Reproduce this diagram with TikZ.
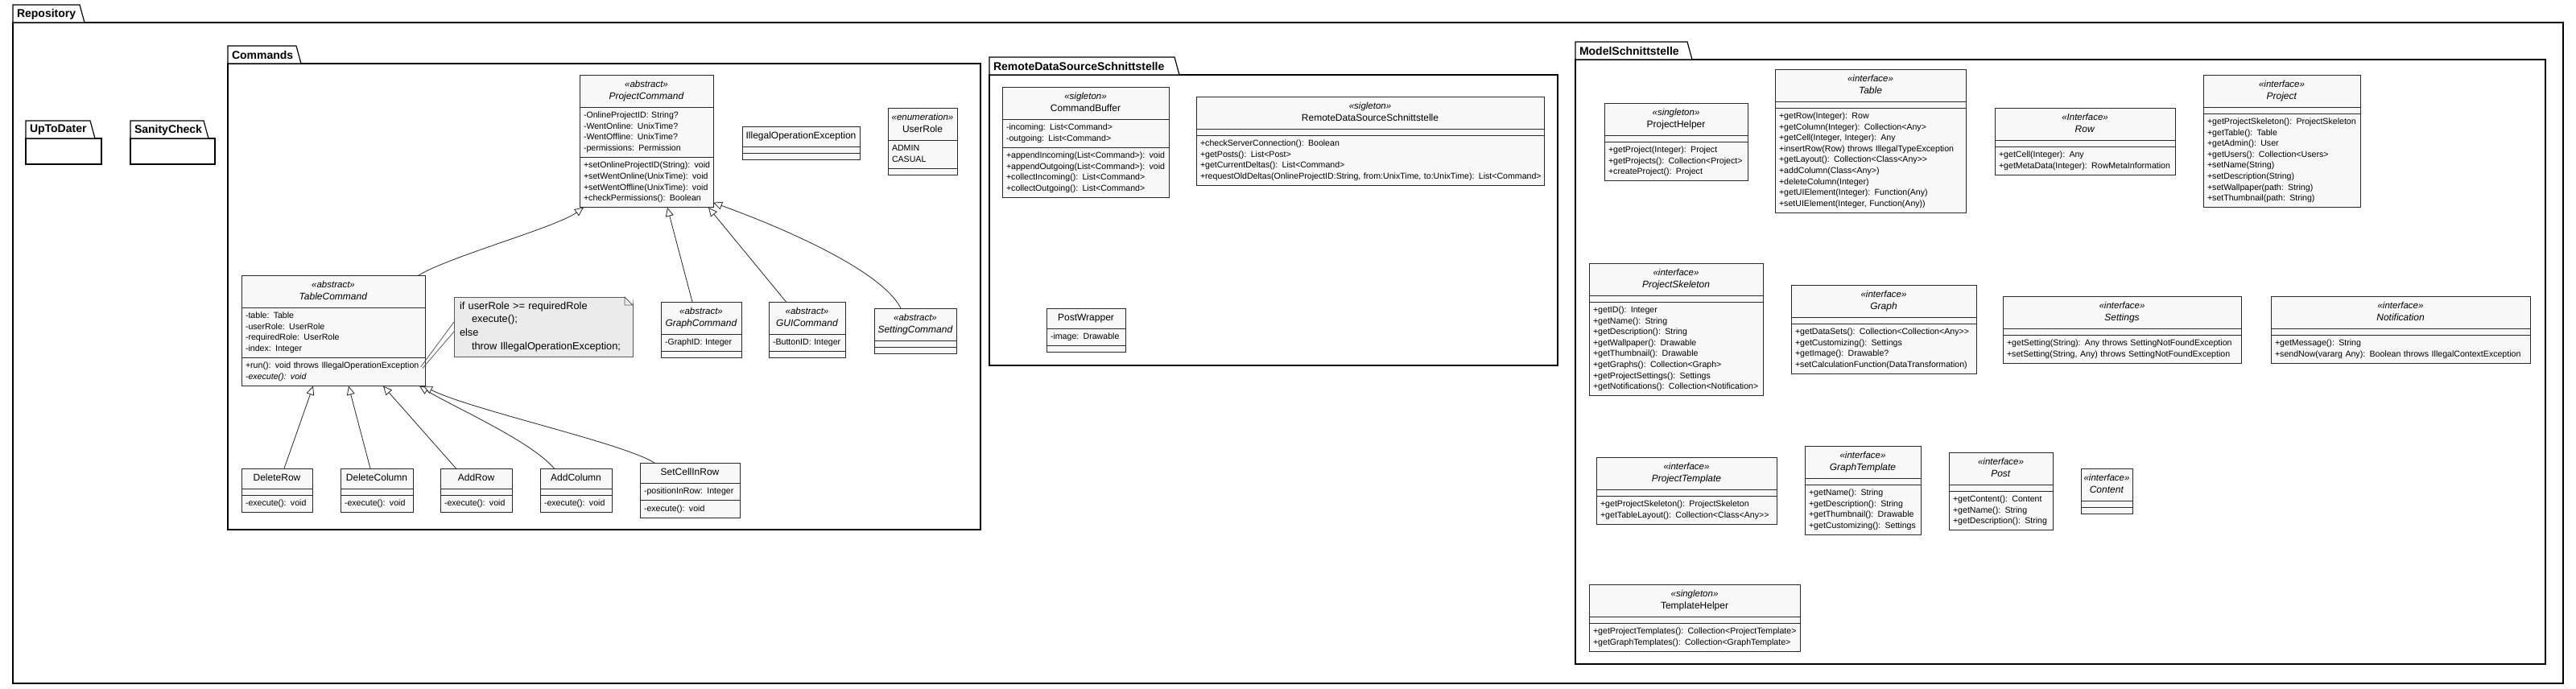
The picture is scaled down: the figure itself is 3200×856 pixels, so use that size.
\documentclass[tikz,border=0pt]{standalone}
\usepackage{fontspec}
\setmainfont{Liberation Sans}
\usetikzlibrary{arrows.meta}

\begin{document}
\begin{tikzpicture}[x=1pt,y=-1pt,line cap=rect,
	pkgline/.style={line width=1.2pt, draw=black, fill=white},
	pkgtitle/.style={inner sep=0, outer sep=0, anchor=west, font=\fontsize{14}{16}\selectfont\bfseries},
	umlhead/.style={draw=custcol_line, line width=0.9pt, fill=custcol_fill, inner xsep=3pt, inner ysep=5pt, outer sep=0, align=center, font=\fontsize{12}{15}\selectfont},
	umlpart/.style={draw=custcol_line, line width=0.9pt, fill=custcol_fill, inner xsep=5pt, inner ysep=4pt, outer sep=0, align=left, anchor=north, minimum height=8pt, font=\fontsize{10.6}{13.6}\selectfont},
	umlnote/.style={draw=custcol_note_line, line width=0.9pt, fill=custcol_note, inner xsep=7pt, inner ysep=3.6pt, outer sep=0, align=left, anchor=north west, font=\fontsize{12.8}{16.7}\selectfont},
	notelink/.style={draw=custcol_note_line, line width=0.8pt},
	inherit/.style={draw=custcol_line, line width=0.8pt, -{Triangle[open, length=11pt, width=10pt, fill=white]}}]
				\definecolor{custcol_line}{RGB}{40, 40, 40}
				\definecolor{custcol_fill}{RGB}{248, 248, 248}
				\definecolor{custcol_note}{RGB}{235, 235, 235}
				\definecolor{custcol_note_line}{RGB}{90, 90, 90}
				\def\stereo#1{{\fontsize{11.5}{15}\selectfont\itshape «#1»}}
				\def\umlrows#1{\if\relax\detokenize{#1}\relax\else\begin{tabular}{@{}l@{}}#1\end{tabular}\fi}
				% name, x, y, width, header, attributes, methods
				\def\umlclass#1#2#3#4#5#6#7{%
					\pgfmathsetmacro\umlhw{#4-6}%
					\pgfmathsetmacro\umltw{#4-10}%
					\node[umlhead, text width=\umlhw pt, anchor=north west] (#1) at (#2,#3) {\begin{tabular}{@{}c@{}}#5\end{tabular}};
					\node[umlpart, text width=\umltw pt] (#1-attr) at (#1.south) {\umlrows{#6}};
					\node[umlpart, text width=\umltw pt] (#1-meth) at (#1-attr.south) {\umlrows{#7}};
				}
				% name, x0, tab top, x1, bottom, tab width, title
				\def\umlpackage#1#2#3#4#5#6#7{%
					\draw[pkgline] (#2,#3+22) rectangle (#4,#5);
					\draw[pkgline] (#2,#3+22) -- (#2,#3) -- (#2+#6,#3) -- (#2+#6+6,#3+22) -- cycle;
					\node[pkgtitle] (#1) at (#2+5,#3+11.5) {#7};
				}
				\useasboundingbox (0.0,0.0) rectangle (3200.0,856.0);
				% packages
				\umlpackage{Repository}{16.0}{6.0}{3184.0}{849.0}{83.0}{Repository}
				\umlpackage{UpToDater}{32.0}{150.0}{126.0}{204.0}{80.0}{UpToDater}
				\umlpackage{SanityCheck}{162.0}{150.0}{267.0}{204.0}{91.0}{SanityCheck}
				\umlpackage{Commands}{283.0}{57.0}{1218.0}{658.0}{85.0}{Commands}
				\umlpackage{RemotePkg}{1229.0}{71.0}{1935.0}{454.0}{230.0}{RemoteDataSourceSchnittstelle}
				\umlpackage{ModelPkg}{1957.0}{52.0}{3162.0}{825.0}{139.0}{ModelSchnittstelle}
				% Commands
				\umlclass{ProjectCommand}{720.0}{93.0}{166.0}{\stereo{abstract}\\\textit{ProjectCommand}}{-OnlineProjectID: String?\\-WentOnline: UnixTime?\\-WentOffline: UnixTime?\\-permissions: Permission}{+setOnlineProjectID(String): void\\+setWentOnline(UnixTime): void\\+setWentOffline(UnixTime): void\\+checkPermissions(): Boolean}
				\umlclass{IllegalOperationException}{922.0}{157.0}{146.0}{IllegalOperationException}{}{}
				\umlclass{UserRole}{1103.0}{134.0}{86.0}{\stereo{enumeration}\\UserRole}{ADMIN\\CASUAL}{}
				\umlclass{TableCommand}{300.0}{342.0}{228.0}{\stereo{abstract}\\\textit{TableCommand}}{-table: Table\\-userRole: UserRole\\-requiredRole: UserRole\\-index: Integer}{+run(): void throws IllegalOperationException\\\textit{-execute(): void}}
				\umlclass{GraphCommand}{821.0}{375.0}{100.0}{\stereo{abstract}\\\textit{GraphCommand}}{-GraphID: Integer}{}
				\umlclass{GUICommand}{955.0}{375.0}{95.0}{\stereo{abstract}\\\textit{GUICommand}}{-ButtonID: Integer}{}
				\umlclass{SettingCommand}{1086.0}{383.0}{102.0}{\stereo{abstract}\\\textit{SettingCommand}}{}{}
				\umlclass{DeleteRow}{300.0}{582.0}{88.0}{DeleteRow}{}{-execute(): void}
				\umlclass{DeleteColumn}{423.0}{582.0}{90.0}{DeleteColumn}{}{-execute(): void}
				\umlclass{AddRow}{547.0}{582.0}{89.0}{AddRow}{}{-execute(): void}
				\umlclass{AddColumn}{671.0}{582.0}{89.0}{AddColumn}{}{-execute(): void}
				\umlclass{SetCellInRow}{795.0}{575.0}{124.0}{SetCellInRow}{-positionInRow: Integer}{-execute(): void}
				\node[umlnote, text width=208pt] (RoleNote) at (564.0,369.0) {\begin{tabular}{@{}l@{}}if userRole >= requiredRole\\\hspace*{15pt}execute();\\else\\\hspace*{15pt}throw IllegalOperationException;\end{tabular}};
				\fill[white] ([xshift=-10pt]RoleNote.north east) -- ([xshift=1pt,yshift=1pt]RoleNote.north east) -- ([yshift=-10pt]RoleNote.north east) -- cycle;
				\draw[notelink, fill=custcol_note] ([xshift=-10pt]RoleNote.north east) -- ([yshift=-10pt]RoleNote.north east) -- ++(-10,0) -- cycle;
				\draw[notelink] ([yshift=-31pt]RoleNote.north west) -- ([xshift=-5pt,yshift=-11pt]TableCommand-meth.north east);
				\draw[notelink] ([yshift=-43pt]RoleNote.north west) -- ([xshift=-3pt,yshift=-13pt]TableCommand-meth.north east);
				\draw[inherit] ([xshift=-8pt]TableCommand.north east) .. controls +(40,-24) and +(-35,25) .. ([xshift=5pt]ProjectCommand-meth.south west);
				\draw[inherit] ([xshift=-11pt]GraphCommand.north) -- ([xshift=26pt]ProjectCommand-meth.south);
				\draw[inherit] ([xshift=-26pt]GUICommand.north) -- ([xshift=-6pt]ProjectCommand-meth.south east);
				\draw[inherit] ([xshift=-18pt]SettingCommand.north) .. controls +(-25,-50) and +(70,25) .. ([yshift=6pt]ProjectCommand-meth.south east);
				\draw[inherit] ([xshift=9pt]DeleteRow.north) -- ([xshift=-25pt]TableCommand-meth.south);
				\draw[inherit] ([xshift=-8pt]DeleteColumn.north) -- ([xshift=19pt]TableCommand-meth.south);
				\draw[inherit] ([xshift=-25pt]AddRow.north) -- ([xshift=62pt]TableCommand-meth.south);
				\draw[inherit] ([xshift=-27pt]AddColumn.north) .. controls +(-30,-35) and +(40,25) .. ([xshift=-7pt]TableCommand-meth.south east);
				\draw[inherit] ([xshift=-44pt]SetCellInRow.north) .. controls +(-40,-25) and +(60,30) .. ([xshift=-2pt]TableCommand-meth.south east);
				% RemoteDataSourceSchnittstelle
				\umlclass{CommandBuffer}{1245.0}{108.0}{207.0}{\stereo{sigleton}\\CommandBuffer}{-incoming: List<Command>\\-outgoing: List<Command>}{+appendIncoming(List<Command>): void\\+appendOutgoing(List<Command>): void\\+collectIncoming(): List<Command>\\+collectOutgoing(): List<Command>}
				\umlclass{RemoteDataSource}{1486.0}{120.0}{432.0}{\stereo{sigleton}\\RemoteDataSourceSchnittstelle}{}{+checkServerConnection(): Boolean\\+getPosts(): List<Post>\\+getCurrentDeltas(): List<Command>\\+requestOldDeltas(OnlineProjectID:String, from:UnixTime, to:UnixTime): List<Command>}
				\umlclass{PostWrapper}{1300.0}{383.0}{98.0}{PostWrapper}{-image: Drawable}{}
				% ModelSchnittstelle
				\umlclass{ProjectHelper}{1993.0}{128.0}{178.0}{\stereo{singleton}\\ProjectHelper}{}{+getProject(Integer): Project\\+getProjects(): Collection<Project>\\+createProject(): Project}
				\umlclass{Table}{2205.0}{86.0}{237.0}{\stereo{interface}\\\textit{Table}}{}{+getRow(Integer): Row\\+getColumn(Integer): Collection<Any>\\+getCell(Integer, Integer): Any\\+insertRow(Row) throws IllegalTypeException\\+getLayout(): Collection<Class<Any>{}>\\+addColumn(Class<Any>)\\+deleteColumn(Integer)\\+getUIElement(Integer): Function(Any)\\+setUIElement(Integer, Function(Any))}
				\umlclass{Row}{2478.0}{134.0}{224.0}{\stereo{Interface}\\\textit{Row}}{}{+getCell(Integer): Any\\+getMetaData(Integer): RowMetaInformation}
				\umlclass{Project}{2737.0}{93.0}{195.0}{\stereo{interface}\\\textit{Project}}{}{+getProjectSkeleton(): ProjectSkeleton\\+getTable(): Table\\+getAdmin(): User\\+getUsers(): Collection<Users>\\+setName(String)\\+setDescription(String)\\+setWallpaper(path: String)\\+setThumbnail(path: String)}
				\umlclass{ProjectSkeleton}{1974.0}{327.0}{216.0}{\stereo{interface}\\\textit{ProjectSkeleton}}{}{+getID(): Integer\\+getName(): String\\+getDescription(): String\\+getWallpaper(): Drawable\\+getThumbnail(): Drawable\\+getGraphs(): Collection<Graph>\\+getProjectSettings(): Settings\\+getNotifications(): Collection<Notification>}
				\umlclass{Graph}{2225.0}{354.0}{230.0}{\stereo{interface}\\\textit{Graph}}{}{+getDataSets(): Collection<Collection<Any>{}>\\+getCustomizing(): Settings\\+getImage(): Drawable?\\+setCalculationFunction(DataTransformation)}
				\umlclass{Settings}{2488.0}{368.0}{296.0}{\stereo{interface}\\\textit{Settings}}{}{+getSetting(String): Any throws SettingNotFoundException\\+setSetting(String, Any) throws SettingNotFoundException}
				\umlclass{Notification}{2821.0}{368.0}{322.0}{\stereo{interface}\\\textit{Notification}}{}{+getMessage(): String\\+sendNow(vararg Any): Boolean throws IllegalContextException}
				\umlclass{ProjectTemplate}{1983.0}{568.0}{224.0}{\stereo{interface}\\\textit{ProjectTemplate}}{}{+getProjectSkeleton(): ProjectSkeleton\\+getTableLayout(): Collection<Class<Any>{}>}
				\umlclass{GraphTemplate}{2242.0}{554.0}{144.0}{\stereo{interface}\\\textit{GraphTemplate}}{}{+getName(): String\\+getDescription(): String\\+getThumbnail(): Drawable\\+getCustomizing(): Settings}
				\umlclass{Post}{2421.0}{562.0}{129.0}{\stereo{interface}\\\textit{Post}}{}{+getContent(): Content\\+getName(): String\\+getDescription(): String}
				\umlclass{Content}{2585.0}{582.0}{64.0}{\stereo{interface}\\\textit{Content}}{}{}
				\umlclass{TemplateHelper}{1974.0}{726.0}{262.0}{\stereo{singleton}\\TemplateHelper}{}{+getProjectTemplates(): Collection<ProjectTemplate>\\+getGraphTemplates(): Collection<GraphTemplate>}
			\end{tikzpicture}
\end{document}
